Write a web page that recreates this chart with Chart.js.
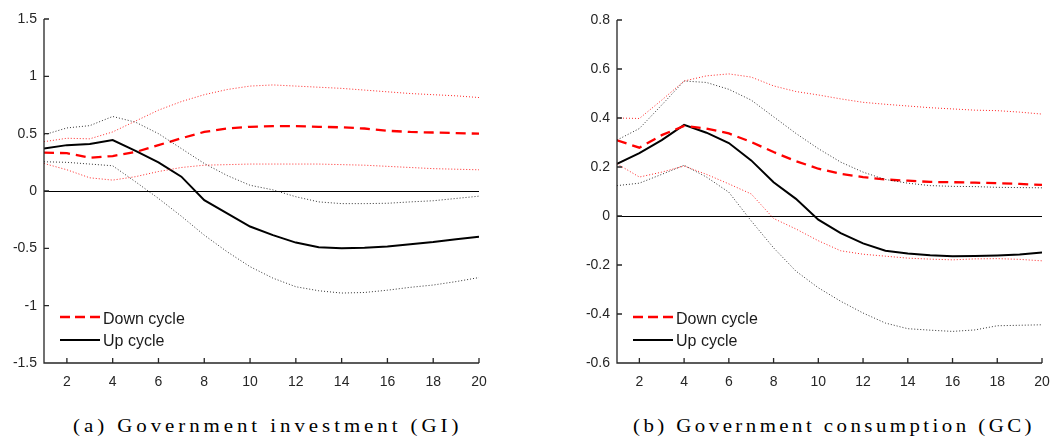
<!DOCTYPE html>
<html>
<head>
<meta charset="utf-8">
<script src="https://cdn.jsdelivr.net/npm/chart.js@4.4.0/dist/chart.umd.min.js"></script>
<style>
  html, body { margin: 0; padding: 0; background: #ffffff; width: 1064px; height: 439px; overflow: hidden; }
  .wrap { position: absolute; }
  .legend { position: absolute; font-family: "Liberation Sans", Arial, sans-serif; font-size: 16px; color: #1a1a1a; }
  .leg-item { position: absolute; white-space: nowrap; line-height: 16px; }
  .caption { position: absolute; font-family: "Liberation Serif", "DejaVu Serif", serif; font-size: 19px; color: #000; white-space: nowrap; line-height: 20px; transform-origin: 0 50%; }
</style>
</head>
<body>
<div class="wrap" id="wa" style="left:0px;top:0px;width:500px;height:400px;"><canvas id="ca" width="500" height="400"></canvas></div>
<div class="wrap" id="wb" style="left:532px;top:0px;width:532px;height:400px;"><canvas id="cb" width="532" height="400"></canvas></div>

<div id="lega"></div>
<div id="legb"></div>
<div class="caption" id="capa"></div>
<div class="caption" id="capb"></div>

<script>
// ---------------- DATA ----------------
const horizons = [1,2,3,4,5,6,7,8,9,10,11,12,13,14,15,16,17,18,19,20];
const xTickValues = [2,4,6,8,10,12,14,16,18,20];

const seriesNames = ['Down cycle', 'Up cycle'];
const captions = ['(a) Government investment (GI)', '(b) Government consumption (GC)'];

// (a) Government investment
const giYTicks = [-1.5, -1, -0.5, 0, 0.5, 1, 1.5];
const giDown   = [0.335,0.33,0.29,0.305,0.34,0.40,0.46,0.515,0.545,0.56,0.565,0.565,0.56,0.555,0.545,0.525,0.515,0.51,0.505,0.50];
const giDownHi = [0.43,0.46,0.455,0.515,0.61,0.705,0.78,0.84,0.885,0.915,0.925,0.915,0.905,0.895,0.88,0.865,0.85,0.84,0.83,0.815];
const giDownLo = [0.24,0.185,0.115,0.095,0.125,0.17,0.205,0.225,0.23,0.235,0.235,0.235,0.235,0.23,0.225,0.215,0.205,0.195,0.19,0.185];
const giUp     = [0.37,0.40,0.41,0.445,0.35,0.25,0.125,-0.08,-0.195,-0.31,-0.385,-0.45,-0.49,-0.50,-0.495,-0.485,-0.465,-0.445,-0.42,-0.40];
const giUpHi   = [0.49,0.55,0.57,0.65,0.60,0.50,0.37,0.24,0.135,0.05,0.01,-0.05,-0.095,-0.11,-0.11,-0.107,-0.095,-0.085,-0.065,-0.045];
const giUpLo   = [0.255,0.25,0.235,0.22,0.08,-0.065,-0.22,-0.385,-0.53,-0.66,-0.76,-0.835,-0.87,-0.89,-0.885,-0.865,-0.84,-0.82,-0.79,-0.755];

// (b) Government consumption
const gcYTicks = [-0.6, -0.4, -0.2, 0, 0.2, 0.4, 0.6, 0.8];
const gcDown   = [0.309,0.279,0.33,0.368,0.357,0.337,0.302,0.261,0.224,0.193,0.172,0.159,0.149,0.144,0.139,0.138,0.136,0.134,0.131,0.127];
const gcDownHi = [0.40,0.398,0.473,0.551,0.572,0.58,0.567,0.531,0.508,0.494,0.478,0.464,0.456,0.449,0.442,0.437,0.432,0.43,0.424,0.416];
const gcDownLo = [0.213,0.159,0.179,0.204,0.17,0.131,0.09,-0.01,-0.053,-0.101,-0.142,-0.156,-0.164,-0.172,-0.176,-0.179,-0.175,-0.174,-0.177,-0.183];
const gcUp     = [0.213,0.257,0.31,0.372,0.34,0.298,0.227,0.138,0.07,-0.015,-0.07,-0.112,-0.142,-0.153,-0.16,-0.164,-0.163,-0.161,-0.157,-0.149];
const gcUpHi   = [0.31,0.357,0.453,0.551,0.545,0.517,0.473,0.405,0.337,0.275,0.22,0.179,0.149,0.134,0.124,0.121,0.12,0.117,0.116,0.115];
const gcUpLo   = [0.124,0.134,0.17,0.207,0.159,0.097,-0.02,-0.13,-0.225,-0.293,-0.348,-0.396,-0.437,-0.46,-0.466,-0.471,-0.465,-0.448,-0.446,-0.444];

// ---------------- STYLE ----------------
const RED = '#ff0000';
const BLACK = '#000000';
const AXIS = '#262626';
const TICK_FONT = { family: 'Liberation Sans', size: 14 };

function pts(arr) { return horizons.map((h, i) => ({ x: h, y: arr[i] })); }

function dotted(arr, color) {
  return { label: '', data: pts(arr), borderColor: color, borderWidth: 1, borderDash: [1, 2],
           pointRadius: 0, tension: 0, fill: false };
}

const axesPlugin = {
  id: 'axesPlugin',
  beforeDatasetsDraw(chart) {
    const { ctx, chartArea: a, scales: { y } } = chart;
    const y0 = Math.round(y.getPixelForValue(0)) + 0.5;
    ctx.save();
    ctx.strokeStyle = '#000';
    ctx.lineWidth = 1;
    ctx.beginPath();
    ctx.moveTo(a.left, y0);
    ctx.lineTo(a.right, y0);
    ctx.stroke();
    ctx.restore();
  },
  afterDraw(chart) {
    const { ctx, chartArea: a, scales: { x, y } } = chart;
    ctx.save();
    ctx.strokeStyle = AXIS;
    ctx.lineWidth = 1.3;
    ctx.beginPath();
    ctx.moveTo(a.left, a.top);
    ctx.lineTo(a.left, a.bottom);
    ctx.lineTo(a.right, a.bottom);
    y.ticks.forEach(t => {
      const py = y.getPixelForValue(t.value);
      ctx.moveTo(a.left, py); ctx.lineTo(a.left + 5, py);
    });
    x.ticks.forEach(t => {
      const px = x.getPixelForValue(t.value);
      ctx.moveTo(px, a.bottom); ctx.lineTo(px, a.bottom - 5);
    });
    ctx.stroke();
    ctx.restore();
  }
};

function makeChart(canvasId, d, yTicks, geom) {
  return new Chart(document.getElementById(canvasId), {
    type: 'line',
    data: {
      datasets: [
        dotted(d.downHi, 'rgba(255,0,0,0.85)'),
        dotted(d.downLo, 'rgba(255,0,0,0.85)'),
        dotted(d.upHi, 'rgba(0,0,0,0.8)'),
        dotted(d.upLo, 'rgba(0,0,0,0.8)'),
        { label: seriesNames[0], data: pts(d.down), borderColor: RED, borderWidth: 2.3, borderDash: [10, 6],
          pointRadius: 0, tension: 0, fill: false },
        { label: seriesNames[1], data: pts(d.up), borderColor: BLACK, borderWidth: 2,
          pointRadius: 0, tension: 0, fill: false }
      ]
    },
    options: {
      responsive: false,
      animation: false,
      devicePixelRatio: 1,
      layout: { padding: { left: 0, top: geom.top, right: geom.right, bottom: 0 } },
      plugins: { legend: { display: false }, tooltip: { enabled: false }, title: { display: false } },
      scales: {
        x: {
          type: 'linear', min: 1, max: 20,
          grid: { display: false, drawTicks: false }, border: { display: false },
          afterBuildTicks: s => { s.ticks = xTickValues.map(v => ({ value: v })); },
          afterFit: s => { s.height = geom.xh; },
          ticks: { font: TICK_FONT, color: AXIS, padding: 11, maxRotation: 0, autoSkip: false,
                   callback: v => String(v) }
        },
        y: {
          type: 'linear', min: yTicks[0], max: yTicks[yTicks.length - 1],
          grid: { display: false, drawTicks: false }, border: { display: false },
          afterBuildTicks: s => { s.ticks = yTicks.map(v => ({ value: v })); },
          afterFit: s => { s.width = geom.yw; },
          ticks: { font: TICK_FONT, color: AXIS, padding: 7, autoSkip: false,
                   callback: v => String(v) }
        }
      }
    },
    plugins: [axesPlugin]
  });
}

makeChart('ca', { down: giDown, downHi: giDownHi, downLo: giDownLo, up: giUp, upHi: giUpHi, upLo: giUpLo },
          giYTicks, { top: 19, right: 21, xh: 37, yw: 44 });
makeChart('cb', { down: gcDown, downHi: gcDownHi, downLo: gcDownLo, up: gcUp, upHi: gcUpHi, upLo: gcUpLo },
          gcYTicks, { top: 20, right: 22, xh: 37, yw: 85 });

// ---------------- LEGENDS ----------------
function buildLegend(id, left, lineW) {
  const host = document.getElementById(id);
  host.className = 'legend';
  host.style.left = left + 'px';
  host.style.top = '0px';
  const items = [
    { name: seriesNames[0], color: RED, dash: '10,5', w: 2.3, lineY: 317, textTop: 311 },
    { name: seriesNames[1], color: BLACK, dash: '', w: 2, lineY: 339.5, textTop: 333 }
  ];
  items.forEach(it => {
    const ns = 'http://www.w3.org/2000/svg';
    const svg = document.createElementNS(ns, 'svg');
    svg.setAttribute('width', lineW); svg.setAttribute('height', 6);
    svg.style.position = 'absolute'; svg.style.left = '0px'; svg.style.top = (it.lineY - 3) + 'px';
    const ln = document.createElementNS(ns, 'line');
    ln.setAttribute('x1', 0); ln.setAttribute('x2', lineW); ln.setAttribute('y1', 3); ln.setAttribute('y2', 3);
    ln.setAttribute('stroke', it.color); ln.setAttribute('stroke-width', it.w);
    if (it.dash) ln.setAttribute('stroke-dasharray', it.dash);
    svg.appendChild(ln);
    host.appendChild(svg);
    const sp = document.createElement('div');
    sp.className = 'leg-item';
    sp.style.left = (lineW + 3) + 'px';
    sp.style.top = it.textTop + 'px';
    sp.textContent = it.name;
    host.appendChild(sp);
  });
}
buildLegend('lega', 60, 40);
buildLegend('legb', 633, 40);

// ---------------- CAPTIONS ----------------
const CAP_STRETCH = 1.1;
function placeCaption(id, text, left, width, top) {
  const el = document.getElementById(id);
  el.textContent = text;
  el.style.left = left + 'px';
  el.style.top = top + 'px';
  const natural = el.offsetWidth;
  const n = text.length - 1;
  el.style.letterSpacing = ((width / CAP_STRETCH - natural) / n) + 'px';
  el.style.transform = 'scaleX(' + CAP_STRETCH + ')';
}
placeCaption('capa', captions[0], 73, 385, 416);
placeCaption('capb', captions[1], 633, 399, 416);
</script>
</body>
</html>
